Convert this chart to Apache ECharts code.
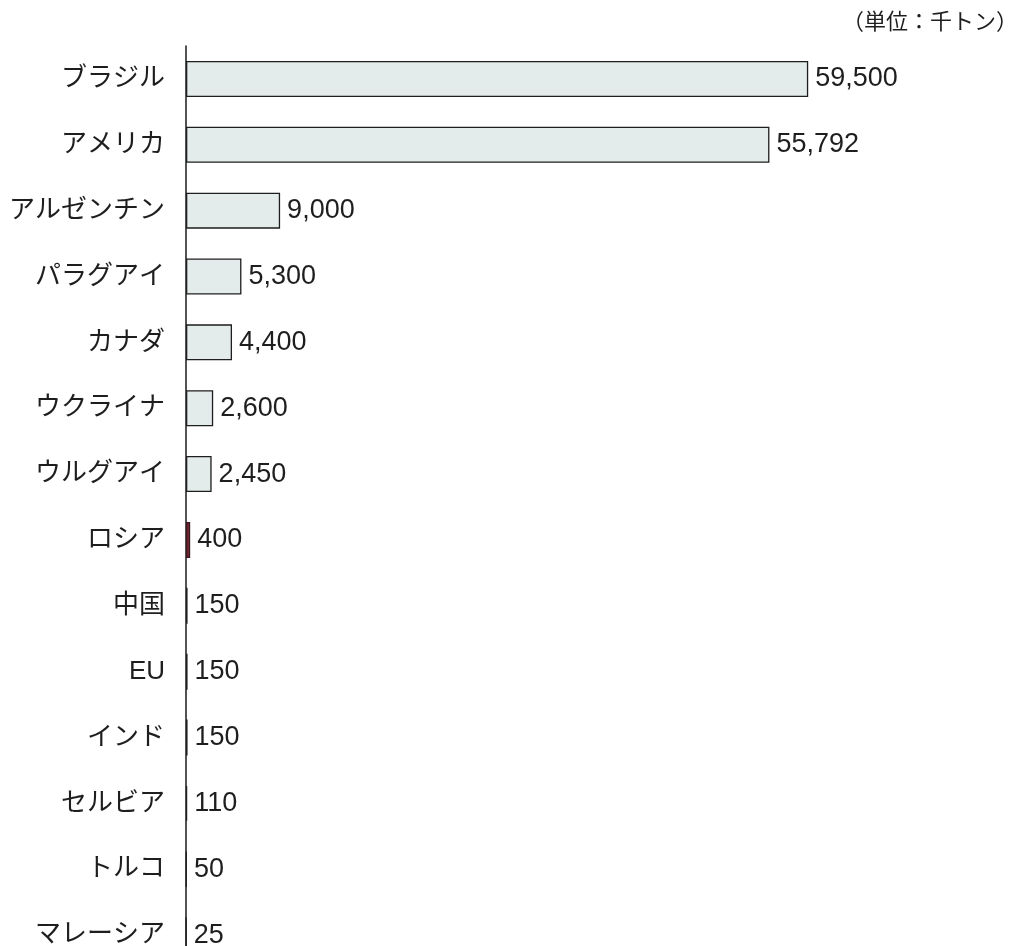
<!DOCTYPE html>
<html>
<head>
<meta charset="utf-8">
<script src="https://cdn.jsdelivr.net/npm/echarts@6/dist/echarts.min.js"></script>
<style>
  html, body { margin: 0; padding: 0; background: #fff; overflow: hidden; }
  #chart { width: 1018px; height: 980px; }
</style>
</head>
<body>
<div id="chart"></div>
<script>
// Soybean production by country (thousand tonnes)
const countries = ['ブラジル', 'アメリカ', 'アルゼンチン', 'パラグアイ', 'カナダ', 'ウクライナ', 'ウルグアイ',
  'ロシア', '中国', 'EU', 'インド', 'セルビア', 'トルコ', 'マレーシア'];
const production = [59500, 55792, 9000, 5300, 4400, 2600, 2450, 400, 150, 150, 150, 110, 50, 25];
const highlighted = ['ロシア'];
const unitLabel = '（単位：千トン）';

const chart = echarts.init(document.getElementById('chart'), null, { renderer: 'canvas' });

const barData = production.map((v, i) => ({
  value: v,
  itemStyle: highlighted.includes(countries[i])
    ? { color: '#7a2636', borderColor: '#3a1a1e' }
    : {}
}));

chart.setOption({
  backgroundColor: '#ffffff',
  animation: false,
  grid: { left: 186, top: 46, width: 732, height: 922 },
  xAxis: {
    type: 'value',
    min: 0,
    max: 70000,
    show: false
  },
  yAxis: {
    type: 'category',
    data: countries,
    inverse: true,
    axisLine: { show: true, lineStyle: { color: '#1a1a1a', width: 1.5 } },
    axisTick: { show: false },
    axisLabel: {
      margin: 21,
      color: '#1e1e1e',
      fontSize: 26,
      fontFamily: '"Liberation Sans", "Noto Sans CJK JP", sans-serif'
    }
  },
  series: [{
    type: 'bar',
    data: barData,
    barWidth: 36,
    itemStyle: { color: '#e3ebeb', borderColor: '#1e1e1e', borderWidth: 1.3 },
    label: {
      show: true,
      position: 'right',
      distance: 7,
      color: '#1e1e1e',
      fontSize: 27,
      fontFamily: '"Liberation Sans", Arial, sans-serif',
      formatter: p => p.value.toLocaleString('en-US')
    }
  }],
  graphic: [{
    type: 'text',
    right: 0,
    top: 10,
    style: {
      text: unitLabel,
      fill: '#1e1e1e',
      fontSize: 22,
      fontFamily: '"Noto Sans CJK JP", sans-serif'
    }
  }]
});
</script>
</body>
</html>
